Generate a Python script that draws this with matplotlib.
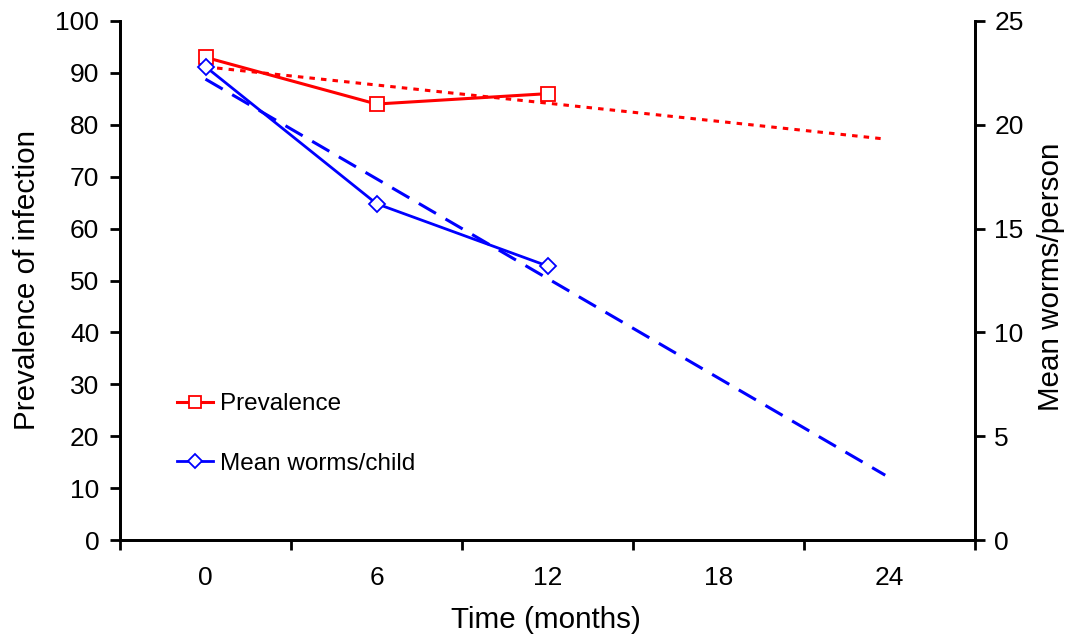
import numpy as np
import matplotlib.pyplot as plt
from matplotlib.ticker import FixedLocator

plt.rcParams['font.family'] = ['Liberation Sans', 'DejaVu Sans']

# data
months = [0, 6, 12]
prevalence = [93, 84, 86]
worms = [22.8, 16.2, 13.2]
xtick_labels = ['0', '6', '12', '18', '24']

fig = plt.figure(figsize=(10.76, 6.41), dpi=100)
ax = fig.add_axes([120 / 1076, 1 - 540 / 641, 855 / 1076, 519 / 641])
ax2 = ax.twinx()

# linear trendlines, like the spreadsheet's
trend_x = np.array([0, 23.85])
p_fit = np.polyfit(months, prevalence, 1)
w_fit = np.polyfit(months, worms, 1)

ax.plot(trend_x, np.polyval(p_fit, trend_x), color='red', lw=2.2,
        dashes=(1.8, 2.0))
l1, = ax.plot(months, prevalence, color='red', lw=2.2, marker='s',
              markersize=10, markerfacecolor='white', markeredgewidth=1.3,
              label='Prevalence')

ax2.plot(trend_x, np.polyval(w_fit, trend_x), color='blue', lw=2.2,
         dashes=(6.5, 3.6))
l2, = ax2.plot(months, worms, color='blue', lw=2.0, marker='D',
               markersize=8.5, markerfacecolor='white', markeredgewidth=1.3,
               label='Mean worms/child')

ax.set_xlim(-3, 27)
ax.set_ylim(0, 100)
ax2.set_ylim(0, 25)

ax.set_xticks([0, 6, 12, 18, 24])
ax.set_xticklabels(xtick_labels)
ax.xaxis.set_minor_locator(FixedLocator([-3, 3, 9, 15, 21, 27]))
ax.tick_params(axis='x', which='major', length=0, pad=19, labelsize=19)
ax.tick_params(axis='x', which='minor', length=7, width=2, direction='out')
ax.set_yticks(range(0, 101, 10))
ax.tick_params(axis='y', length=7, width=2, direction='out', pad=8,
               labelsize=19)
ax2.set_yticks(range(0, 26, 5))
ax2.tick_params(axis='y', length=7, width=2, direction='out', pad=7,
                labelsize=19)

for a in (ax, ax2):
    a.spines['top'].set_visible(False)
    for s in ('left', 'right', 'bottom'):
        a.spines[s].set_linewidth(2)

ax.set_ylabel('Prevalence of infection', fontsize=21.3)
ax.yaxis.set_label_coords(-0.0924, 0.5)
ax2.set_ylabel('Mean worms/person', fontsize=21.3)
ax2.yaxis.set_label_coords(1.0725, 0.508)
ax.set_xlabel('Time (months)', fontsize=21.3)
ax.xaxis.set_label_coords(0.498, -0.127)

ax2.legend(handles=[l1, l2], loc='center left',
           bbox_to_anchor=(0.0667, 0.204), frameon=False, fontsize=17.5,
           labelspacing=1.55, handlelength=1.48, handletextpad=0.3,
           borderpad=0, borderaxespad=0, markerscale=0.85)

fig.savefig('out.png', dpi=100)
